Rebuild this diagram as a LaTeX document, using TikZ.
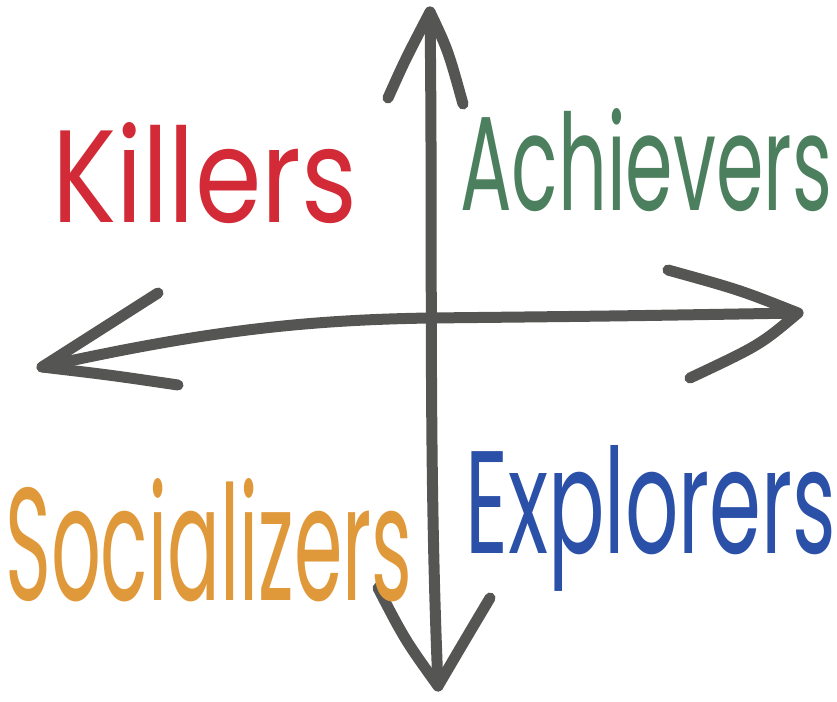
\documentclass[tikz,border=0pt]{standalone}
\usepackage{fontspec}
\setmainfont{Poppins}
\definecolor{axisgrey}{HTML}{555553}
\definecolor{killred}{HTML}{D22A36}
\definecolor{achgreen}{HTML}{4C7F5E}
\definecolor{socorange}{HTML}{E0993A}
\definecolor{expblue}{HTML}{2A50A8}
\begin{document}
\begin{tikzpicture}[x=1pt,y=-1pt,
  axis/.style={draw=axisgrey,line width=11pt,line cap=round,line join=round},
  word/.style={inner sep=0pt,anchor=north west}]
\useasboundingbox (0,0) rectangle (837,701);
% coordinates
\coordinate (top) at (430,12);
\coordinate (bot) at (438,686);
\coordinate (lft) at (42,367);
\coordinate (rgt) at (798,313);
% vertical axis
\draw[axis] (top) .. controls (433,250) and (428,450) .. (bot);
\draw[axis] (388,98) .. controls (405,60) .. (top) .. controls (448,50) .. (463,104);
\draw[axis] (378,588) .. controls (405,640) .. (bot) .. controls (465,640) .. (490,598);
% horizontal axis
\draw[axis] (lft) .. controls (200,332) and (300,320) .. (430,318) .. controls (620,316) .. (rgt);
\draw[axis] (158,293) .. controls (100,330) .. (lft) .. controls (110,375) .. (178,385);
\draw[axis] (668,270) .. controls (740,290) .. (rgt) .. controls (760,345) .. (690,378);
% words
\node[word,text=killred] (killers) at (52,122) {\resizebox{305pt}{100pt}{Killers}};
\node[word,text=achgreen] (achievers) at (460,108) {\resizebox{372pt}{102pt}{Achievers}};
\node[word,text=socorange] (socializers) at (5,478) {\resizebox{407pt}{122pt}{Socializers}};
\node[word,text=expblue] (explorers) at (465,445) {\resizebox{371pt}{108pt}{Explorers}};
\end{tikzpicture}
\end{document}
